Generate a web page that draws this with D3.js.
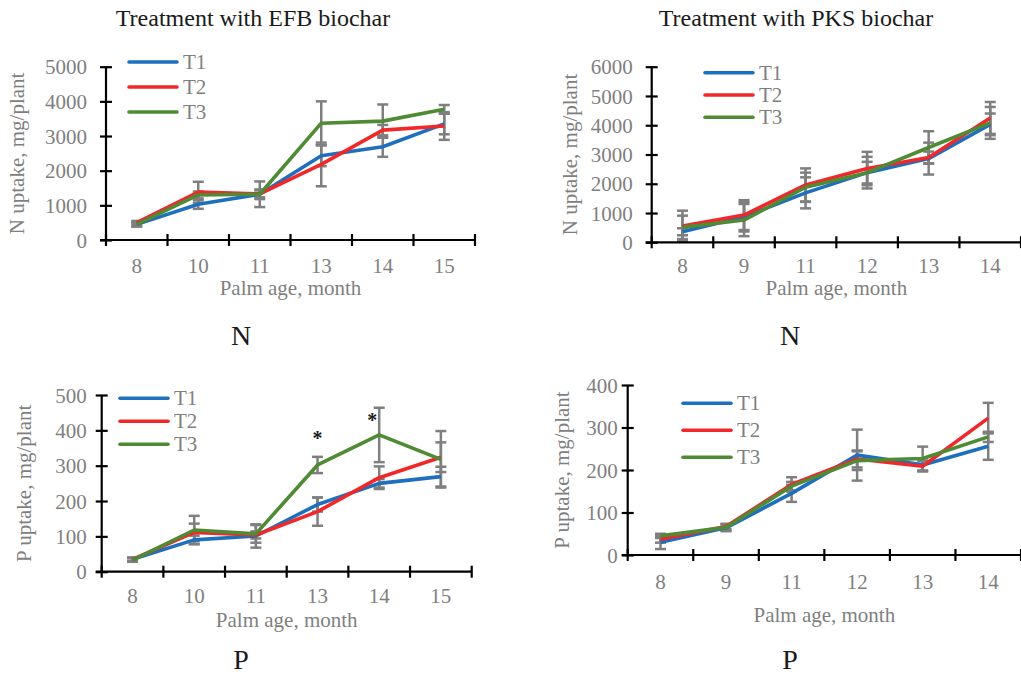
<!DOCTYPE html>
<meta charset="utf-8">
<style>
body { margin: 0; background: #fff; }
svg { display: block; }
text { font-family: "Liberation Serif", "Times New Roman", serif; }
.tick-label, .axis-label, .legend text { fill: #7f7f7f; font-size: 21px; }
.title { fill: #1a1a1a; font-size: 24px; }
.big { fill: #1a1a1a; font-size: 28px; }
.star { fill: #1a1a1a; font-size: 20px; font-weight: bold; }
</style>
<body>
<script src="https://d3js.org/d3.v7.min.js"></script>
<script>

// months sampled
var efbMonths = [8, 10, 11, 13, 14, 15];
var pksMonths = [8, 9, 11, 12, 13, 14];
var seriesNames = ["T1", "T2", "T3"];
var seriesColors = ["#1f6fbf", "#f0282a", "#4f8a34"];

// N uptake, EFB biochar
var nEfbT1 = [450, 1030, 1320, 2430, 2690, 3350];
var nEfbT2 = [500, 1380, 1330, 2180, 3170, 3290];
var nEfbT3 = [450, 1300, 1320, 3370, 3430, 3770];
var nEfbErr1 = [60, 130, 140, 300, 290, 300];
var nEfbErr2 = [50, 300, 100, 630, 150, 400];
var nEfbErr3 = [60, 100, 370, 630, 480, 125];

// N uptake, PKS biochar
var nPksT1 = [360, 870, 1690, 2380, 2860, 4030];
var nPksT2 = [560, 930, 1960, 2520, 2900, 4250];
var nPksT3 = [510, 760, 1880, 2380, 3240, 4080];
var nPksErr1 = [120, 500, 530, 540, 545, 370];
var nPksErr2 = [520, 510, 565, 570, 200, 545];
var nPksErr3 = [400, 550, 500, 370, 555, 545];

// P uptake, EFB biochar
var pEfbT1 = [35, 90, 101, 190, 250, 269];
var pEfbT2 = [35, 111, 104, 170, 266, 324];
var pEfbT3 = [33, 118, 107, 302, 387, 318];
var pEfbErr1 = [5, 12, 33, 20, 12, 28];
var pEfbErr2 = [5, 25, 10, 40, 32, 42];
var pEfbErr3 = [5, 40, 25, 23, 77, 80];
// significance marks (month, value)
var pEfbStars = [{m: 13, v: 393, dx: 0}, {m: 14, v: 444, dx: -7}];

// P uptake, PKS biochar
var pPksT1 = [30, 64, 145, 235, 212, 256];
var pPksT2 = [37, 67, 166, 226, 209, 322];
var pPksT3 = [45, 65, 162, 222, 227, 278];
var pPksErr1 = [16, 8, 20, 60, 15, 32];
var pPksErr2 = [8, 6, 17, 20, 12, 36];
var pPksErr3 = [5, 8, 10, 22, 28, 12];

var svg = d3.select("body").append("svg")
    .attr("width", 1021)
    .attr("height", 677);

svg.append("rect").attr("width", 1021).attr("height", 677).attr("fill", "#fff");

function drawPanel(p) {
  var x = d3.scaleBand().domain(p.months).range([p.x0, p.x1]);
  var y = d3.scaleLinear().domain([0, p.yMax]).range([p.yBase, p.yTop]);
  var g = svg.append("g");

  // error bars
  p.values.forEach(function(vals, si) {
    var errs = p.errs[si];
    vals.forEach(function(v, i) {
      var cx = x(p.months[i]) + x.bandwidth() / 2;
      var lo = y(v - errs[i]), hi = y(v + errs[i]);
      var eb = g.append("g").attr("stroke", "#7f7f7f").attr("stroke-width", 2.5);
      eb.append("line").attr("x1", cx).attr("x2", cx).attr("y1", lo).attr("y2", hi);
      eb.append("line").attr("x1", cx - 5.5).attr("x2", cx + 5.5).attr("y1", lo).attr("y2", lo);
      eb.append("line").attr("x1", cx - 5.5).attr("x2", cx + 5.5).attr("y1", hi).attr("y2", hi);
    });
  });

  var line = d3.line()
      .x(function(d, i) { return x(p.months[i]) + x.bandwidth() / 2; })
      .y(function(d) { return y(d); });

  p.values.forEach(function(vals, si) {
    g.append("path")
        .datum(vals)
        .attr("fill", "none")
        .attr("stroke", seriesColors[si])
        .attr("stroke-width", 3.6)
        .attr("stroke-linejoin", "round")
        .attr("d", line);
  });

  // y axis
  var yTicks = d3.range(0, p.yMax + 1, p.yStep);
  var yAxis = g.append("g")
      .attr("transform", "translate(" + p.x0 + ",0)")
      .call(d3.axisLeft(y).tickValues(yTicks).tickSize(12).tickFormat(d3.format("d")));
  yAxis.select(".domain").remove();
  yAxis.attr("font-size", null).attr("font-family", null);
  yAxis.append("line").attr("y1", p.yBase + 1).attr("y2", p.yTop)
      .attr("stroke", "#000").attr("stroke-width", 2.2);
  yAxis.selectAll(".tick line").attr("x1", -6).attr("x2", 6)
      .attr("stroke", "#000").attr("stroke-width", 2.2);
  yAxis.selectAll(".tick text").attr("class", "tick-label")
      .attr("x", -p.yLabelGap).attr("dy", "0.34em");

  // x axis: labels at band centres, ticks at band edges
  var xAxis = g.append("g")
      .attr("transform", "translate(0," + p.yBase + ")")
      .call(d3.axisBottom(x).tickSize(0));
  xAxis.select(".domain").remove();
  xAxis.attr("font-size", null).attr("font-family", null);
  xAxis.selectAll(".tick text").attr("class", "tick-label")
      .attr("y", p.xLabelGap).attr("dy", "0.34em");
  xAxis.append("line").attr("x1", p.x0 - 6).attr("x2", p.x1)
      .attr("stroke", "#000").attr("stroke-width", 2.2);
  var edges = p.months.map(function(m) { return x(m); }).concat([p.x1]);
  xAxis.selectAll(".edge").data(edges).enter().append("line")
      .attr("x1", function(d) { return d; })
      .attr("x2", function(d) { return d; })
      .attr("y1", -6).attr("y2", 6)
      .attr("stroke", "#000").attr("stroke-width", 2.2);

  // axis titles
  g.append("text").attr("class", "axis-label")
      .attr("transform", "translate(" + p.yTitleX + "," + ((p.yBase + p.yTop) / 2) + ") rotate(-90)")
      .attr("text-anchor", "middle").attr("dy", "0.34em")
      .text(p.yTitle);
  g.append("text").attr("class", "axis-label")
      .attr("x", (p.x0 + p.x1) / 2).attr("y", p.xTitleY)
      .attr("text-anchor", "middle").attr("dy", "0.34em")
      .text("Palm age, month");

  // legend
  var leg = g.append("g").attr("class", "legend");
  seriesNames.forEach(function(name, i) {
    var ly = p.legY + i * p.legStep;
    leg.append("line").attr("x1", p.legX).attr("x2", p.legX + 48)
        .attr("y1", ly).attr("y2", ly)
        .attr("stroke", seriesColors[i]).attr("stroke-width", 3.6)
        .attr("stroke-linecap", "round");
    leg.append("text").attr("x", p.legX + 54).attr("y", ly).attr("dy", "0.34em").text(name);
  });

  if (p.stars) {
    p.stars.forEach(function(s) {
      g.append("text").attr("class", "star")
          .attr("x", x(s.m) + x.bandwidth() / 2 + s.dx)
          .attr("y", y(s.v)).attr("dy", "0.6em")
          .attr("text-anchor", "middle").text("*");
    });
  }

  g.append("text").attr("class", "big")
      .attr("x", p.bigX).attr("y", p.bigY).attr("text-anchor", "middle")
      .text(p.big);
}

svg.append("text").attr("class", "title").attr("x", 253).attr("y", 26)
    .attr("text-anchor", "middle").text("Treatment with EFB biochar");
svg.append("text").attr("class", "title").attr("x", 796).attr("y", 26)
    .attr("text-anchor", "middle").text("Treatment with PKS biochar");

drawPanel({
  months: efbMonths, values: [nEfbT1, nEfbT2, nEfbT3], errs: [nEfbErr1, nEfbErr2, nEfbErr3],
  x0: 106, x1: 475, yBase: 240, yTop: 66.7, yMax: 5000, yStep: 1000,
  yLabelGap: 19, xLabelGap: 26, yTitleX: 17, xTitleY: 288, yTitle: "N uptake, mg/plant",
  legX: 129, legY: 62, legStep: 25, big: "N", bigX: 241, bigY: 345
});
drawPanel({
  months: pksMonths, values: [nPksT1, nPksT2, nPksT3], errs: [nPksErr1, nPksErr2, nPksErr3],
  x0: 651.7, x1: 1021, yBase: 242.3, yTop: 66.7, yMax: 6000, yStep: 1000,
  yLabelGap: 19, xLabelGap: 24, yTitleX: 570, xTitleY: 288, yTitle: "N uptake, mg/plant",
  legX: 705, legY: 72.7, legStep: 22.3, big: "N", bigX: 790, bigY: 345
});
drawPanel({
  months: efbMonths, values: [pEfbT1, pEfbT2, pEfbT3], errs: [pEfbErr1, pEfbErr2, pEfbErr3],
  x0: 101.7, x1: 471.7, yBase: 571.7, yTop: 395, yMax: 500, yStep: 100,
  yLabelGap: 15, xLabelGap: 24, yTitleX: 24, xTitleY: 620, yTitle: "P uptake, mg/plant",
  legX: 120, legY: 398.3, legStep: 23, stars: pEfbStars, big: "P", bigX: 241, bigY: 669
});
drawPanel({
  months: pksMonths, values: [pPksT1, pPksT2, pPksT3], errs: [pPksErr1, pPksErr2, pPksErr3],
  x0: 627.7, x1: 1021, yBase: 555, yTop: 385, yMax: 400, yStep: 100,
  yLabelGap: 10, xLabelGap: 27, yTitleX: 562, xTitleY: 615, yTitle: "P uptake, mg/plant",
  legX: 683, legY: 403.3, legStep: 27, big: "P", bigX: 790, bigY: 669
});

</script>
